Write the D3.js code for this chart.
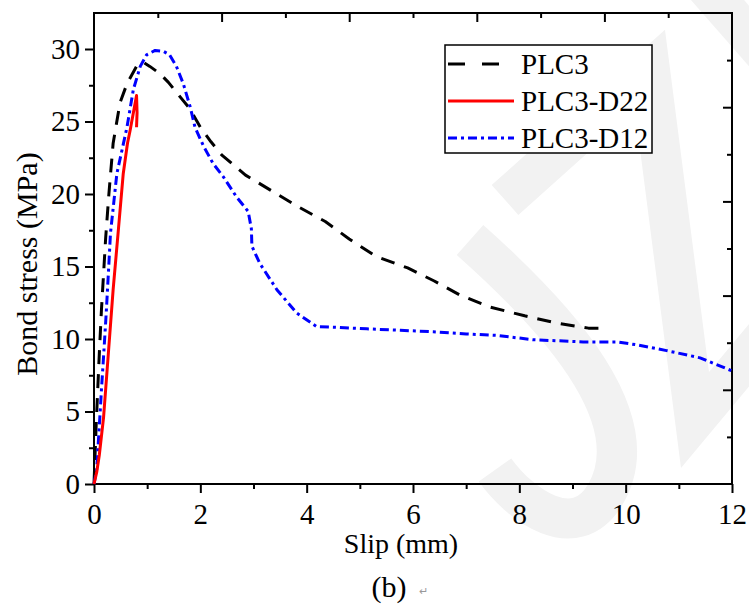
<!DOCTYPE html>
<html>
<head>
<meta charset="utf-8">
<script src="https://cdn.jsdelivr.net/npm/d3@7/dist/d3.min.js"></script>
<style>
  html, body { margin: 0; padding: 0; background: #fff; }
  svg { display: block; }
  text { font-family: "Liberation Serif", "Times New Roman", serif; }
</style>
</head>
<body>
<svg id="chart" width="749" height="604"></svg>
<script>
// ---- Data ----
const seriesNames = ["PLC3", "PLC3-D22", "PLC3-D12"];
const plc3Slip   = [0, 0.02, 0.04, 0.07, 0.10, 0.14, 0.18, 0.22, 0.28, 0.36, 0.49, 0.62, 0.80, 0.92, 1.05, 1.24, 1.40, 1.62, 1.80, 2.00, 2.20, 2.40, 2.85, 3.35, 3.85, 4.35, 4.80, 5.30, 5.90, 6.40, 6.90, 7.45, 8.10, 8.70, 9.30, 9.55];
const plc3Stress = [0, 2.0, 4.0, 6.5, 9.0, 12.0, 14.5, 17.0, 20.0, 23.5, 26.3, 27.6, 28.8, 29.1, 28.8, 28.3, 27.7, 26.7, 25.9, 24.6, 23.6, 22.7, 21.3, 20.2, 19.1, 18.1, 16.9, 15.7, 14.9, 14.0, 13.0, 12.2, 11.6, 11.1, 10.75, 10.75];
const d22Slip    = [0, 0.05, 0.10, 0.18, 0.27, 0.36, 0.46, 0.55, 0.63, 0.68, 0.75, 0.80, 0.81, 0.80];
const d22Stress  = [0, 0.8, 2.0, 4.6, 9.0, 13.4, 17.6, 21.4, 23.5, 24.4, 25.8, 26.8, 25.6, 24.6];
const d12Slip    = [0, 0.05, 0.08, 0.11, 0.14, 0.18, 0.23, 0.27, 0.31, 0.43, 0.62, 0.74, 0.87, 0.99, 1.15, 1.30, 1.42, 1.55, 1.68, 1.81, 1.90, 2.06, 2.24, 2.43, 2.68, 2.90, 2.96, 2.97, 3.12, 3.44, 3.81, 4.19, 4.60, 5.13, 5.76, 6.38, 7.00, 7.57, 8.26, 9.20, 9.83, 10.21, 10.77, 11.40, 12.00];
const d12Stress  = [0, 1.0, 2.8, 4.6, 6.5, 8.8, 11.8, 14.5, 17.3, 21.4, 24.6, 27.2, 28.8, 29.6, 29.9, 29.85, 29.6, 28.8, 27.6, 26.0, 24.6, 23.3, 22.1, 21.2, 19.8, 18.8, 17.6, 16.4, 15.2, 13.4, 11.8, 10.85, 10.8, 10.7, 10.6, 10.5, 10.35, 10.25, 9.95, 9.8, 9.8, 9.6, 9.2, 8.7, 7.8];
const xTickValues = [0, 2, 4, 6, 8, 10, 12];
const xMinorTicks = [1, 3, 5, 7, 9, 11];
const yTickValues = [0, 5, 10, 15, 20, 25, 30];
const yMinorTicks = [2.5, 7.5, 12.5, 17.5, 22.5, 27.5];
const xLabel = "Slip (mm)";
const yLabel = "Bond stress (MPa)";
const caption = "(b)";

// ---- Layout ----
const svg = d3.select("#chart");
const L = 94, R = 732, T = 13, B = 484;

// faint watermark in the background
const wm = svg.append("g").attr("fill", "none").attr("stroke", "#f2f2f2").attr("stroke-width", 40);
wm.append("path").attr("d", "M700,-20 L770,60");
wm.append("path").attr("d", "M505,200 L650,70 L695,420 L770,330").attr("stroke-linejoin", "miter");
wm.append("path").attr("d", "M470,240 C560,320 650,420 605,495 C575,545 520,505 495,470");

const x = d3.scaleLinear().domain([0, 12]).range([L, R]);
const y = d3.scaleLinear().domain([0, (B - T) / 14.5]).range([B, T]);
const xTop = d3.scaleLinear().domain([0, 10]).range([L, R]);
const yRight = d3.scaleLinear().domain([0, 10]).range([B, T]);

const fs = 29;

function styleAxis(g) {
  g.select(".domain").remove();
  g.selectAll(".tick line").attr("stroke", "#000").attr("stroke-width", 2);
  g.selectAll(".tick text").attr("fill", "#000").style("font-size", fs + "px")
    .style("font-family", "'Liberation Serif', 'Times New Roman', serif");
}

// bottom axis
svg.append("g").attr("transform", `translate(0,${B})`)
  .call(d3.axisBottom(x).tickValues(xTickValues).tickSize(9).tickPadding(10).tickFormat(d3.format("d")))
  .call(styleAxis);
svg.append("g").attr("transform", `translate(0,${B})`)
  .call(d3.axisBottom(x).tickValues(xMinorTicks).tickSize(5).tickFormat(""))
  .call(styleAxis);
// left axis
svg.append("g").attr("transform", `translate(${L},0)`)
  .call(d3.axisLeft(y).tickValues(yTickValues).tickSize(9).tickPadding(5).tickFormat(d3.format("d")))
  .call(styleAxis);
svg.append("g").attr("transform", `translate(${L},0)`)
  .call(d3.axisLeft(y).tickValues(yMinorTicks).tickSize(5).tickFormat(""))
  .call(styleAxis);
// top axis (inward ticks, no labels)
svg.append("g").attr("transform", `translate(0,${T})`)
  .call(d3.axisTop(xTop).tickValues([2, 4, 6, 8]).tickSize(-9).tickFormat(""))
  .call(styleAxis);
svg.append("g").attr("transform", `translate(0,${T})`)
  .call(d3.axisTop(xTop).tickValues([1, 3, 5, 7, 9]).tickSize(-5).tickFormat(""))
  .call(styleAxis);
// right axis (inward ticks, no labels)
svg.append("g").attr("transform", `translate(${R},0)`)
  .call(d3.axisRight(yRight).tickValues([2, 4, 6, 8]).tickSize(-9).tickFormat(""))
  .call(styleAxis);
svg.append("g").attr("transform", `translate(${R},0)`)
  .call(d3.axisRight(yRight).tickValues([1, 3, 5, 7, 9]).tickSize(-5).tickFormat(""))
  .call(styleAxis);

// frame
svg.append("rect").attr("x", L).attr("y", T).attr("width", R - L).attr("height", B - T)
  .attr("fill", "none").attr("stroke", "#000").attr("stroke-width", 2);

// ---- Series ----
const line = d3.line().x(d => x(d[0])).y(d => y(d[1]));
const series = [
  { name: seriesNames[0], data: d3.zip(plc3Slip, plc3Stress), color: "#000000", dash: "14,10", width: 3, legendDash: "17,17" },
  { name: seriesNames[1], data: d3.zip(d22Slip, d22Stress), color: "#ff0000", dash: null, width: 3, legendDash: null },
  { name: seriesNames[2], data: d3.zip(d12Slip, d12Stress), color: "#0000ff", dash: "9,4,3,4", width: 3, legendDash: "9,4,3,4" }
];
const plot = svg.append("g");
[series[0], series[2], series[1]].forEach(s => {
  plot.append("path").datum(s.data)
    .attr("fill", "none").attr("stroke", s.color).attr("stroke-width", s.width)
    .attr("stroke-dasharray", s.dash).attr("stroke-linejoin", "round")
    .attr("d", line);
});

// ---- Legend ----
const lg = svg.append("g");
lg.append("rect").attr("x", 445).attr("y", 45).attr("width", 207).attr("height", 108)
  .attr("fill", "#fff").attr("stroke", "#000").attr("stroke-width", 1.5);
series.forEach((s, i) => {
  const cy = 64 + i * 37;
  lg.append("line").attr("x1", 448).attr("x2", 514).attr("y1", cy).attr("y2", cy)
    .attr("stroke", s.color).attr("stroke-width", 3).attr("stroke-dasharray", s.legendDash);
  lg.append("text").attr("x", 521).attr("y", cy + 10).style("font-size", "29px").attr("fill", "#000").text(s.name);
});

// ---- Titles ----
svg.append("text").attr("x", 401).attr("y", 553).attr("text-anchor", "middle")
  .style("font-size", "28px").text(xLabel);
svg.append("text").attr("transform", `translate(37,264) rotate(-90)`)
  .attr("text-anchor", "middle").style("font-size", "30px").text(yLabel);
svg.append("text").attr("x", 389).attr("y", 597).attr("text-anchor", "middle")
  .style("font-size", "30px").text(caption);
svg.append("text").attr("x", 419).attr("y", 595).style("font-size", "11px").attr("fill", "#999").text("↵");
</script>
</body>
</html>
